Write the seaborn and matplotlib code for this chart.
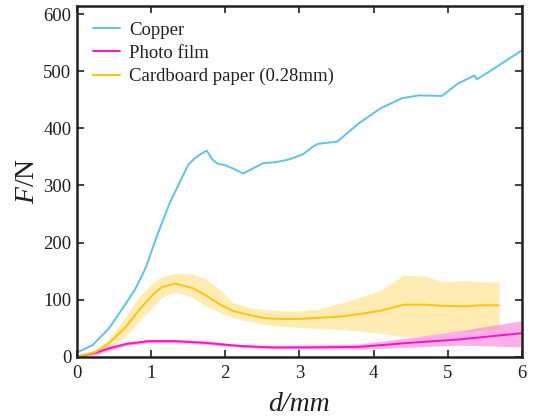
import numpy as np
import pandas as pd
import matplotlib
matplotlib.use('Agg')
import matplotlib.pyplot as plt
import seaborn as sns

# Copper (single curve)
copper_x = [0, 0.21, 0.43, 0.66, 0.78, 0.90, 0.94, 1.02, 1.11, 1.25, 1.38, 1.50, 1.59, 1.68,
            1.75, 1.83, 1.90, 1.99, 2.10, 2.24, 2.33, 2.51, 2.69, 2.87, 3.05, 3.18, 3.25,
            3.51, 3.80, 4.09, 4.38, 4.61, 4.92, 5.14, 5.36, 5.39, 5.55, 5.68, 6.0]
copper_y = [7, 20, 49, 93, 117, 148, 160, 190, 222, 269, 304, 336, 348, 356,
            361, 345, 338, 336, 330, 321, 327, 339, 341, 346, 355, 368, 373,
            377, 409, 435, 453, 458, 457, 479, 493, 486, 499, 510, 537]

# Photo film (mean with band)
film_x = [0, 0.26, 0.43, 0.66, 0.97, 1.33, 1.74, 2.20, 2.64, 3.13, 3.80, 4.48, 5.15, 6.0]
film_y = [0, 7, 14, 22, 27, 27, 24, 18.5, 16, 16, 17, 24, 30, 41]
film_hi = [0, 11, 18, 25, 30, 30, 27, 21, 19, 20, 22, 33, 45, 63]
film_lo = [0, 3, 10, 19, 24, 24, 21, 16, 13, 13, 13, 16, 20, 17]

# Cardboard paper (mean with band)
card_x = [0, 0.25, 0.43, 0.66, 0.84, 1.02, 1.15, 1.33, 1.56, 1.74, 1.92, 2.10, 2.32, 2.55,
          2.77, 3.00, 3.27, 3.59, 4.08, 4.41, 4.70, 4.93, 5.24, 5.47, 5.69]
card_y = [0, 8, 23, 52, 82, 108, 122, 128, 120, 107, 92, 80, 73, 67,
          66, 66, 68, 70.5, 80, 91, 91, 89, 88, 90, 90]
card_hi = [0, 12, 31, 70, 105, 129, 140, 146, 145, 136, 118, 95, 86, 82,
           80, 80, 84, 95, 115, 143, 141, 131, 133, 131, 131]
card_lo = [0, 4, 14, 35, 62, 87, 104, 113, 104, 88, 78, 68, 62, 56,
           53, 51, 49, 47, 41, 35, 36, 41, 44, 46, 48]

sns.set_style('ticks')
plt.rcParams['font.family'] = ['Liberation Serif', 'DejaVu Serif']
plt.rcParams['mathtext.fontset'] = 'custom'
plt.rcParams['mathtext.rm'] = 'Liberation Serif'
plt.rcParams['mathtext.it'] = 'Liberation Serif:italic'

dark = '#231f20'
c_copper = '#5bc3ee'
c_film = '#ff10c8'
c_card = '#ffc20e'

fig = plt.figure(figsize=(5.34, 4.18), dpi=100)
ax = fig.add_axes([0.144, 0.147, 0.8335, 0.839])

# bands
ax.fill_between(card_x, card_lo, card_hi, color='#ffe9a6', alpha=0.85, lw=0)
ax.fill_between(film_x, film_lo, film_hi, color='#ff70d4', alpha=0.55, lw=0)

sns.lineplot(x=copper_x, y=copper_y, ax=ax, color=c_copper, lw=1.4, label='Copper')
sns.lineplot(x=film_x, y=film_y, ax=ax, color=c_film, lw=1.4, label='Photo film')
sns.lineplot(x=card_x, y=card_y, ax=ax, color=c_card, lw=1.4, label='Cardboard paper (0.28mm)')

ax.set_xlim(0, 6)
ax.set_ylim(0, 615)
ax.set_xticks([0, 1, 2, 3, 4, 5, 6])
ax.set_yticks([0, 100, 200, 300, 400, 500, 600])
ax.tick_params(direction='in', top=True, right=True, length=5, width=1.2,
               labelsize=13.5, colors=dark)
ax.tick_params(axis='x', pad=6)
ax.tick_params(axis='y', pad=4)
for s in ax.spines.values():
    s.set_linewidth(1.8)
    s.set_color(dark)

ax.set_xlabel('d/mm', fontsize=20, fontstyle='italic', color=dark, labelpad=7)
ax.set_ylabel(r'$\mathit{F}$/N', fontsize=20, color=dark, labelpad=2)

leg = ax.legend(loc='upper left', frameon=False, fontsize=13.5, handlelength=1.45,
                handletextpad=0.5, labelspacing=0.32, borderaxespad=0.45)
for t in leg.get_texts():
    t.set_color(dark)

fig.savefig('out.png', dpi=100)
